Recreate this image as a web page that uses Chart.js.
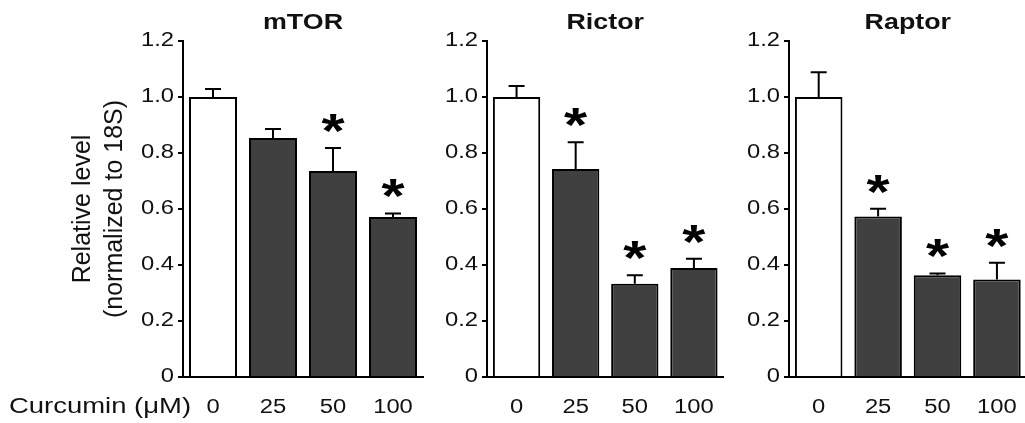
<!DOCTYPE html>
<html><head><meta charset="utf-8">
<script src="https://cdn.jsdelivr.net/npm/chart.js@4.4.0/dist/chart.umd.min.js"></script>
<style>
html,body{margin:0;padding:0;background:#fff;overflow:hidden;width:1025px;height:423px;position:relative;}
canvas{position:absolute;top:0;}
</style></head><body>
<canvas id="c1" width="430" height="423" style="left:0px;width:430px;height:423px"></canvas>
<canvas id="c2" width="300" height="423" style="left:430px;width:300px;height:423px"></canvas>
<canvas id="c3" width="300" height="423" style="left:733px;width:300px;height:423px"></canvas>
<script>
// ---- data ----
const categories = ['0', '25', '50', '100'];
const yTickValues = [0, 0.2, 0.4, 0.6, 0.8, 1.0, 1.2];
const yTickLabels = ['0', '0.2', '0.4', '0.6', '0.8', '1.0', '1.2'];
const yAxisTitle = ['Relative level', '(normalized to 18S)'];
const xAxisLabel = 'Curcumin (\u03bcM)';

const mtorTitle = 'mTOR';
const mtorValues = [1.00, 0.854, 0.736, 0.571];
const mtorErrors = [0.029, 0.032, 0.082, 0.013];
const mtorSignificant = [false, false, true, true];

const rictorTitle = 'Rictor';
const rictorValues = [1.00, 0.743, 0.333, 0.389];
const rictorErrors = [0.039, 0.095, 0.030, 0.033];
const rictorSignificant = [false, true, true, true];

const raptorTitle = 'Raptor';
const raptorValues = [1.00, 0.573, 0.363, 0.348];
const raptorErrors = [0.088, 0.028, 0.007, 0.060];
const raptorSignificant = [false, true, true, true];

// ---- styling ----
const FONT = '"Liberation Sans", Arial, Helvetica, sans-serif';
const TEXT = '#111';
const CONTROL_FILL = '#ffffff';
const TREAT_FILL = '#404040';
// The reference figure's upright lettering is horizontally widened;
// reproduce that by widening horizontal text about its anchor point.
const TEXT_STRETCH_X = 1.22;
const baseFillText = CanvasRenderingContext2D.prototype.fillText;
CanvasRenderingContext2D.prototype.fillText = function (text, x, y) {
  const m = this.getTransform();
  if (Math.abs(m.b) > 1e-6 || Math.abs(m.c) > 1e-6) {
    return baseFillText.apply(this, arguments); // rotated text left as is
  }
  const p = m.transformPoint(new DOMPoint(x, y));
  this.save();
  this.setTransform(new DOMMatrix().translate(p.x, p.y).scale(TEXT_STRETCH_X, 1).translate(-p.x, -p.y).multiply(m));
  baseFillText.apply(this, arguments);
  this.restore();
};

const errorBarPlugin = {
  id: 'errorBars',
  afterDatasetsDraw(chart, args, opts) {
    const ctx = chart.ctx;
    const y = chart.scales.y;
    const meta = chart.getDatasetMeta(0);
    const vals = opts.values, errs = opts.errors, sig = opts.significant;
    ctx.save();
    ctx.strokeStyle = '#000';
    ctx.lineWidth = 2;
    ctx.lineCap = 'butt';
    meta.data.forEach((bar, i) => {
      const x = bar.x;
      const yv = y.getPixelForValue(vals[i]);
      const yt = y.getPixelForValue(vals[i] + errs[i]);
      ctx.beginPath();
      ctx.moveTo(x, yv);
      ctx.lineTo(x, yt);
      ctx.moveTo(x - 8, yt);
      ctx.lineTo(x + 8, yt);
      ctx.stroke();
      if (sig[i]) {
        ctx.font = 'bold 100px ' + FONT;
        const m0 = ctx.measureText('*');
        const h0 = m0.actualBoundingBoxAscent + m0.actualBoundingBoxDescent;
        const size = 100 * 18.5 / h0;
        ctx.font = 'bold ' + size + 'px ' + FONT;
        const m = ctx.measureText('*');
        const cy = yt - 25;
        const baseY = cy + (m.actualBoundingBoxAscent - m.actualBoundingBoxDescent) / 2;
        const inkW = m.actualBoundingBoxRight + m.actualBoundingBoxLeft;
        const baseX = x + m.actualBoundingBoxLeft * TEXT_STRETCH_X - TEXT_STRETCH_X * inkW / 2;
        ctx.fillStyle = '#000';
        ctx.textAlign = 'left';
        ctx.textBaseline = 'alphabetic';
        ctx.fillText('*', baseX, baseY);
      }
    });
    ctx.restore();
  }
};

const sideLabelPlugin = {
  id: 'sideLabel',
  afterDraw(chart, args, opts) {
    if (!opts.text) return;
    const ctx = chart.ctx;
    ctx.save();
    ctx.font = opts.size + 'px ' + FONT;
    ctx.fillStyle = TEXT;
    ctx.textAlign = 'left';
    ctx.textBaseline = 'middle';
    ctx.fillText(opts.text, opts.x, chart.chartArea.bottom + opts.dy);
    ctx.restore();
  }
};

function makePanel(id, title, values, errors, significant, yWidth, rightPad, showYTitle, sideText) {
  return new Chart(document.getElementById(id), {
    type: 'bar',
    data: {
      labels: categories,
      datasets: [{
        data: values,
        backgroundColor: categories.map((c, i) => i === 0 ? CONTROL_FILL : TREAT_FILL),
        borderColor: '#000',
        borderWidth: 2,
        borderSkipped: 'bottom',
        barPercentage: 0.8,
        categoryPercentage: 1.0
      }]
    },
    plugins: [errorBarPlugin, sideLabelPlugin],
    options: {
      responsive: false,
      animation: false,
      devicePixelRatio: 1,
      layout: { padding: { left: 0, right: rightPad, top: 0, bottom: 0 } },
      plugins: {
        legend: { display: false },
        tooltip: { enabled: false },
        title: {
          display: true,
          text: title,
          fullSize: false,
          color: TEXT,
          font: { family: FONT, size: 22, weight: 'bold', lineHeight: 1.2 },
          padding: { top: 10, bottom: 4.6 }
        },
        errorBars: { values: values, errors: errors, significant: significant },
        sideLabel: { text: sideText, x: 9, dy: 30, size: 22.5 }
      },
      scales: {
        x: {
          type: 'category',
          offset: true,
          grid: { display: false, drawTicks: false },
          border: { display: true, color: '#000', width: 2 },
          ticks: { color: TEXT, font: { family: FONT, size: 19.5 }, padding: 19, maxRotation: 0, autoSkip: false },
          afterFit(scale) { scale.height = 46; }
        },
        y: {
          min: 0,
          max: 1.2,
          afterBuildTicks(scale) { scale.ticks = yTickValues.map(v => ({ value: v })); },
          grid: { display: true, drawOnChartArea: false, drawTicks: true, tickLength: 5, color: '#000', lineWidth: 2 },
          border: { display: true, color: '#000', width: 2 },
          ticks: {
            color: TEXT,
            font: { family: FONT, size: 19.5 },
            padding: 4,
            callback: (v, i) => yTickLabels[i]
          },
          title: {
            display: showYTitle,
            text: yAxisTitle,
            color: TEXT,
            font: { family: FONT, size: 25, lineHeight: 1.28 },
            padding: { top: 67, bottom: 0 }
          },
          afterFit(scale) { scale.width = yWidth; }
        }
      }
    }
  });
}

makePanel('c1', mtorTitle, mtorValues, mtorErrors, mtorSignificant, 183, 7, true, xAxisLabel);
makePanel('c2', rictorTitle, rictorValues, rictorErrors, rictorSignificant, 57, 3, false, '');
makePanel('c3', raptorTitle, raptorValues, raptorErrors, raptorSignificant, 56, 4, false, '');
</script>
</body></html>
